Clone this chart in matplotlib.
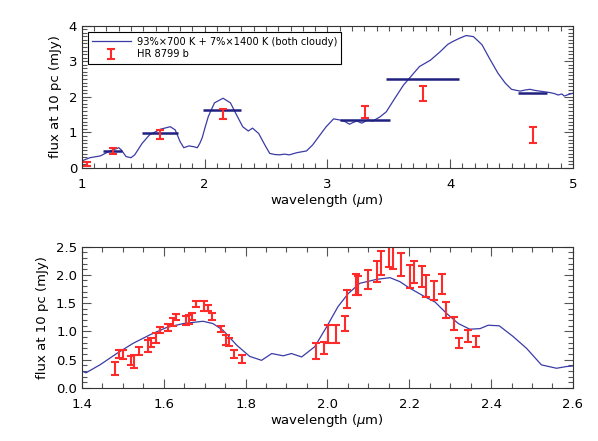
import matplotlib; matplotlib.use('Agg')
import matplotlib.pyplot as plt
from matplotlib.ticker import MultipleLocator

# model spectrum, full range (top panel)
wave_full = [1.00, 1.065, 1.15, 1.23, 1.30, 1.32, 1.36, 1.40, 1.43, 1.49, 1.55, 1.64, 1.72, 1.76,
             1.80, 1.83, 1.87, 1.91, 1.94, 1.96, 1.98, 2.00, 2.03, 2.08, 2.15, 2.21, 2.26, 2.31,
             2.355, 2.39, 2.44, 2.49, 2.53, 2.57, 2.61, 2.65, 2.69, 2.75, 2.83, 2.88, 2.94, 2.99,
             3.05, 3.10, 3.14, 3.18, 3.21, 3.24, 3.28, 3.33, 3.37, 3.43, 3.48, 3.55, 3.62, 3.69,
             3.75, 3.84, 3.92, 3.98, 4.02, 4.08, 4.13, 4.19, 4.26, 4.32, 4.39, 4.45, 4.50, 4.57,
             4.61, 4.65, 4.69, 4.73, 4.77, 4.81, 4.85, 4.88, 4.91, 4.93, 4.96, 5.00]
flux_full = [0.20, 0.29, 0.34, 0.48, 0.57, 0.51, 0.32, 0.29, 0.37, 0.69, 0.93, 1.09, 1.16, 1.07,
             0.74, 0.57, 0.62, 0.60, 0.57, 0.69, 0.85, 1.10, 1.45, 1.83, 1.96, 1.83, 1.49, 1.16,
             1.04, 1.12, 0.97, 0.65, 0.41, 0.38, 0.37, 0.39, 0.37, 0.43, 0.48, 0.65, 0.93, 1.16,
             1.38, 1.35, 1.31, 1.23, 1.28, 1.32, 1.26, 1.35, 1.32, 1.44, 1.58, 1.96, 2.33, 2.61,
             2.85, 3.03, 3.27, 3.47, 3.55, 3.65, 3.72, 3.69, 3.46, 3.08, 2.66, 2.38, 2.21, 2.16,
             2.19, 2.21, 2.18, 2.16, 2.14, 2.12, 2.09, 2.05, 2.08, 2.02, 2.06, 2.10]

# synthetic band fluxes (horizontal bars)
band_lo = [1.17, 1.49, 1.99, 3.10, 3.48, 4.55]
band_hi = [1.33, 1.785, 2.30, 3.51, 4.07, 4.79]
band_flux = [0.49, 0.97, 1.62, 1.35, 2.50, 2.12]

# HR 8799 b photometry
phot_wave = [1.04, 1.25, 1.635, 2.146, 3.305, 3.776, 4.672]
phot_flux = [0.11, 0.47, 0.94, 1.52, 1.57, 2.09, 0.93]
phot_err = [0.05, 0.08, 0.13, 0.13, 0.17, 0.21, 0.23]

# model spectrum, zoom (bottom panel)
wave_zoom = [1.400, 1.41, 1.444, 1.485, 1.525, 1.566, 1.607, 1.648, 1.696, 1.72, 1.745, 1.778,
             1.81, 1.839, 1.864, 1.878, 1.892, 1.912, 1.937, 1.969, 1.998, 2.026, 2.051, 2.079,
             2.12, 2.153, 2.177, 2.20, 2.234, 2.263, 2.291, 2.32, 2.348, 2.373, 2.393, 2.42,
             2.454, 2.487, 2.523, 2.56, 2.584, 2.60]
flux_zoom = [0.30, 0.27, 0.41, 0.61, 0.79, 0.94, 1.07, 1.14, 1.18, 1.14, 1.02, 0.76,
             0.56, 0.49, 0.61, 0.59, 0.57, 0.61, 0.55, 0.73, 1.08, 1.44, 1.67, 1.85,
             1.92, 1.95, 1.88, 1.77, 1.63, 1.52, 1.32, 1.14, 1.04, 1.05, 1.11, 1.10,
             0.91, 0.70, 0.41, 0.35, 0.38, 0.39]

# HR 8799 b spectrum (H and K)
spec_wave = [1.481, 1.490, 1.4995, 1.520, 1.528, 1.540, 1.561, 1.569, 1.581, 1.591, 1.611, 1.623,
             1.631, 1.654, 1.662, 1.670, 1.680, 1.699, 1.707, 1.719, 1.741, 1.752, 1.760, 1.771,
             1.791, 1.972, 1.991, 2.002, 2.022, 2.043, 2.049, 2.070, 2.075, 2.100, 2.120, 2.130,
             2.151, 2.161, 2.181, 2.202, 2.211, 2.232, 2.240, 2.260, 2.281, 2.291, 2.310, 2.322,
             2.343, 2.362]
spec_flux = [0.345, 0.60, 0.59, 0.49, 0.465, 0.655, 0.745, 0.805, 0.885, 1.03, 1.07, 1.17,
             1.255, 1.19, 1.215, 1.27, 1.49, 1.45, 1.415, 1.26, 1.045, 0.85, 0.815, 0.605,
             0.515, 0.65, 0.715, 0.95, 0.955, 1.14, 1.58, 1.825, 1.81, 1.915, 2.06, 2.21,
             2.36, 2.33, 2.185, 1.965, 2.045, 1.97, 1.805, 1.725, 1.84, 1.38, 1.14, 0.795,
             0.92, 0.82]
spec_err = [0.115, 0.075, 0.08, 0.08, 0.115, 0.075, 0.105, 0.075, 0.085, 0.055, 0.06, 0.075,
            0.045, 0.08, 0.075, 0.06, 0.05, 0.09, 0.055, 0.06, 0.05, 0.09, 0.075, 0.065,
            0.065, 0.14, 0.105, 0.16, 0.155, 0.13, 0.16, 0.185, 0.17, 0.17, 0.18, 0.21,
            0.22, 0.22, 0.205, 0.205, 0.195, 0.19, 0.19, 0.17, 0.17, 0.14, 0.11, 0.085,
            0.10, 0.10]

LINE = '#3b3ba6'
BAR = '#202080'
RED = '#ff2a2a'

plt.rcParams['font.family'] = 'DejaVu Sans'
plt.rcParams['font.size'] = 9


def style_axes(ax, xmaj, xmin, ymaj, ymin):
    ax.xaxis.set_major_locator(MultipleLocator(xmaj))
    ax.xaxis.set_minor_locator(MultipleLocator(xmin))
    ax.yaxis.set_major_locator(MultipleLocator(ymaj))
    ax.yaxis.set_minor_locator(MultipleLocator(ymin))
    ax.tick_params(which='both', direction='in', top=True, right=True, width=0.8, color='#555555')
    ax.tick_params(which='major', length=6.5, labelsize=9.5)
    ax.tick_params(which='minor', length=3.5)
    ax.tick_params(axis='x', pad=7)
    for s in ax.spines.values():
        s.set_linewidth(0.8)
        s.set_color('#333333')
    ax.set_xlabel(r'wavelength ($\mu$m)', fontsize=9.5, labelpad=1)
    ax.set_ylabel('flux at 10 pc (mJy)', fontsize=9.5, labelpad=5)


fig = plt.figure(figsize=(5.98, 4.41), dpi=100)

ax1 = fig.add_axes([0.137, 0.619, 0.821, 0.323])
ax1.plot(wave_full, flux_full, color=LINE, lw=0.9,
         label=u'93%\u00d7700 K + 7%\u00d71400 K (both cloudy)')
ax1.hlines(band_flux, band_lo, band_hi, color=BAR, lw=1.8)
ax1.errorbar(phot_wave, phot_flux, yerr=phot_err, fmt='none', ecolor=RED,
             elinewidth=1.5, capsize=3, capthick=1.5, label='HR 8799 b')
ax1.set_xlim(1, 5)
ax1.set_ylim(0, 4)
style_axes(ax1, 1, 0.1, 1, 0.1)
leg = ax1.legend(loc='upper left', bbox_to_anchor=(0.012, 0.952), fontsize=7.1,
                 fancybox=False, edgecolor='black', framealpha=1, borderpad=0.45,
                 handlelength=3.9, handletextpad=0.6, labelspacing=0.25, borderaxespad=0)
leg.get_frame().set_linewidth(0.8)

ax2 = fig.add_axes([0.137, 0.120, 0.821, 0.321])
ax2.plot(wave_zoom, flux_zoom, color=LINE, lw=0.9)
ax2.errorbar(spec_wave, spec_flux, yerr=spec_err, fmt='none', ecolor=RED,
             elinewidth=1.5, capsize=3, capthick=1.5)
ax2.set_xlim(1.4, 2.6)
ax2.set_ylim(0, 2.5)
style_axes(ax2, 0.2, 0.05, 0.5, 0.1)
ax2.yaxis.set_major_formatter(plt.FormatStrFormatter('%.1f'))
ax2.xaxis.set_major_formatter(plt.FormatStrFormatter('%.1f'))

fig.savefig('out.png', dpi=100)
